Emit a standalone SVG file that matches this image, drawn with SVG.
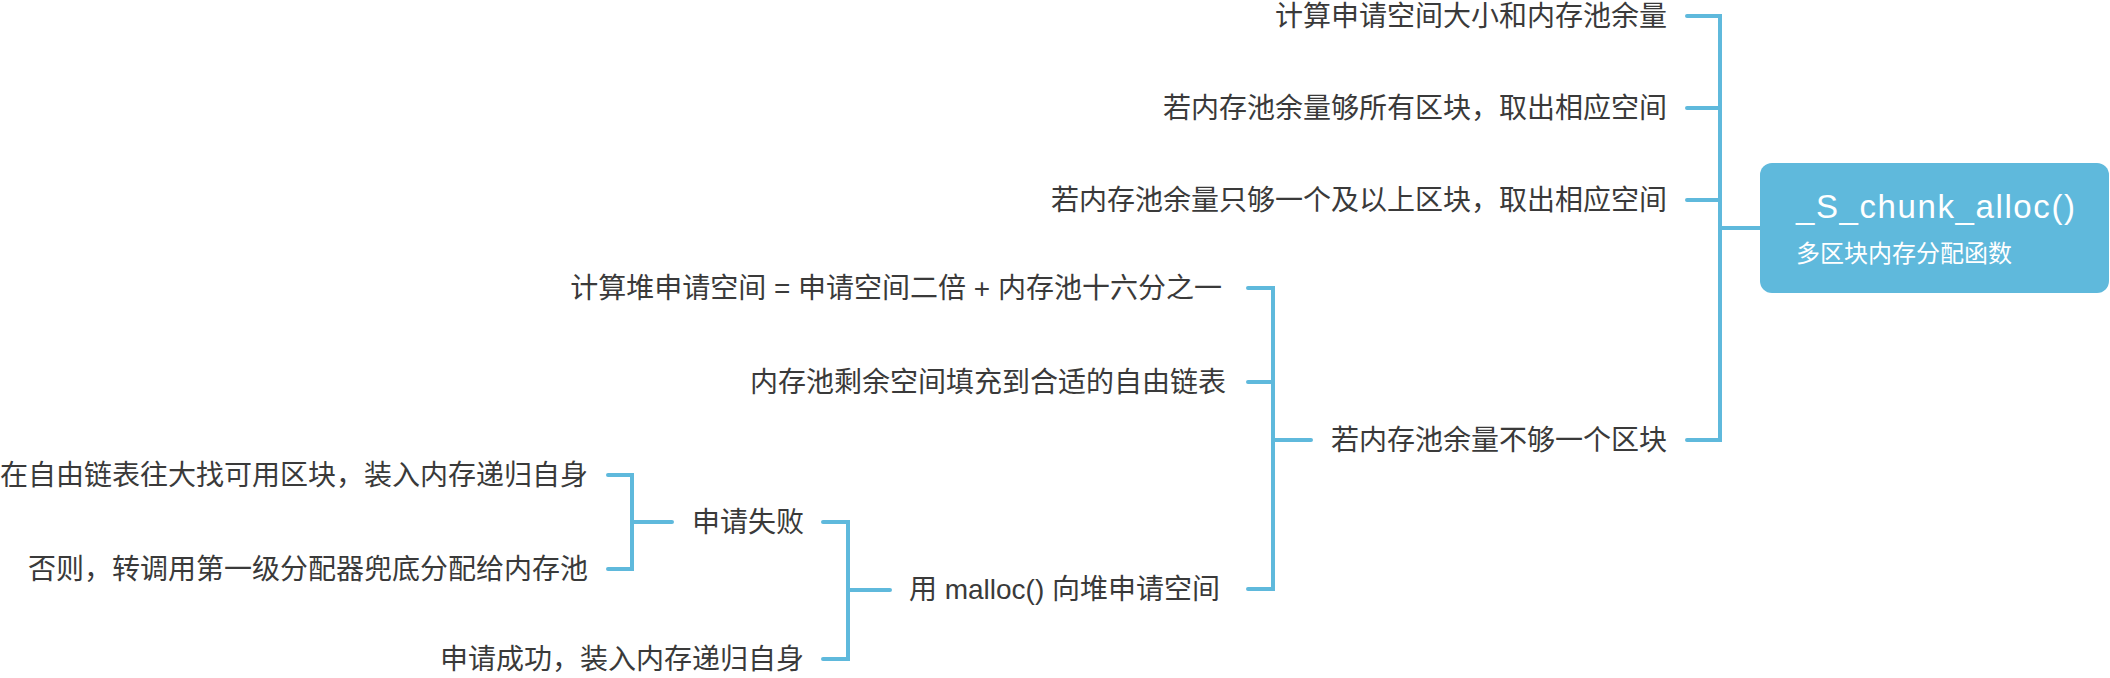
<svg xmlns="http://www.w3.org/2000/svg" width="2110" height="678" viewBox="0 0 2110 678">
<style>
.t{font-family:"Liberation Sans","Noto Sans CJK SC",sans-serif;font-size:28px;fill:#3a3a3a;text-anchor:end}
.c{fill:none;stroke:#5fb9dc;stroke-width:4;stroke-linecap:round;stroke-linejoin:miter}
.rt{font-family:"Liberation Sans","Noto Sans CJK SC",sans-serif;fill:#ffffff}
</style>
<rect width="2110" height="678" fill="#ffffff"/>
<g id="connectors">
<path class="c" d="M1687,16 H1720 V440 H1687 M1687,108 H1720 M1687,200 H1720 M1720,228 H1760"/>
<path class="c" d="M1248,288 H1273 V589 H1248 M1248,382 H1273 M1273,440 H1311"/>
<path class="c" d="M823,522 H848 V659 H823 M848,590 H890"/>
<path class="c" d="M608,475 H632 V569 H608 M632,522 H672"/>
</g>
<g id="root">
<rect x="1760" y="163" width="349" height="130" rx="12" fill="#5fb9dc"/>
<text class="rt" x="1796" y="218" font-size="33" textLength="279" lengthAdjust="spacing">_S_chunk_alloc()</text>
<text class="rt" x="1796" y="262" font-size="24">多区块内存分配函数</text>
</g>
<g id="n1"><text class="t" x="1667" y="26">计算申请空间大小和内存池余量</text></g>
<g id="n2"><text class="t" x="1667" y="118">若内存池余量够所有区块，取出相应空间</text></g>
<g id="n3"><text class="t" x="1667" y="210">若内存池余量只够一个及以上区块，取出相应空间</text></g>
<g id="n4"><text class="t" x="1667" y="450">若内存池余量不够一个区块</text></g>
<g id="n5"><text class="t" x="1222" y="298">计算堆申请空间 = 申请空间二倍 + 内存池十六分之一</text></g>
<g id="n6"><text class="t" x="1226" y="392">内存池剩余空间填充到合适的自由链表</text></g>
<g id="n7"><text class="t" x="1220" y="599">用 malloc() 向堆申请空间</text></g>
<g id="n8"><text class="t" x="804" y="532">申请失败</text></g>
<g id="n9"><text class="t" x="804" y="669">申请成功，装入内存递归自身</text></g>
<g id="n10"><text class="t" x="588" y="485">在自由链表往大找可用区块，装入内存递归自身</text></g>
<g id="n11"><text class="t" x="588" y="579">否则，转调用第一级分配器兜底分配给内存池</text></g>
</svg>
